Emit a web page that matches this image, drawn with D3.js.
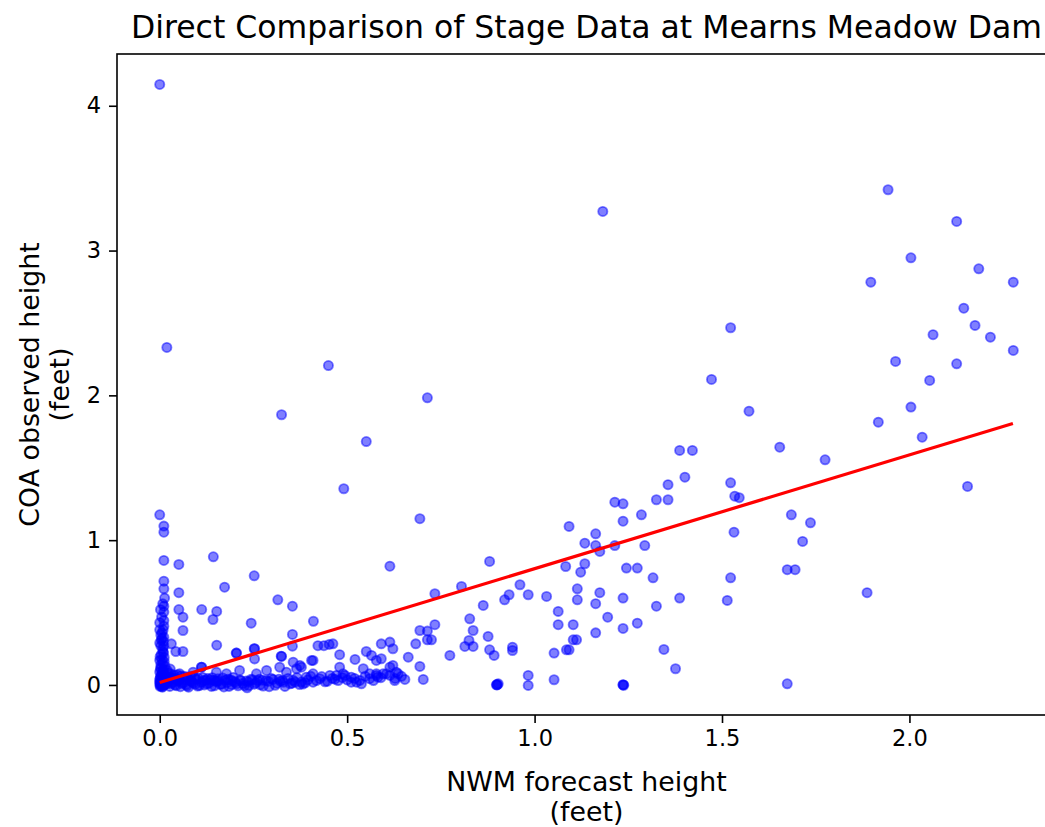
<!DOCTYPE html>
<html>
<head>
<meta charset="utf-8">
<script src="https://cdn.jsdelivr.net/npm/d3@7"></script>
<style>
  body { margin: 0; background: #fff; }
  text { font-family: "DejaVu Sans", sans-serif; fill: #000; }
</style>
</head>
<body>
<div id="chart"></div>
<script>
// NWM forecast height (feet) vs COA observed height (feet)
var nwm = [
  0, 1.182, 1.943, 2.126, 2.004, 2.185, 1.897, 2.277, 2.145, 2.175, 2.063, 2.216, 2.277, 1.963, 2.126, 2.054,
  2.004, 1.917, 2.034, 1.523, 1.472, 1.572, 1.387, 1.421, 1.654, 1.775, 1.401, 1.523, 1.534, 1.546, 2.155,
  1.685, 1.736, 1.532, 1.715, 1.674, 1.695, 1.523, 1.887, 1.387, 1.514, 1.376, 1.674,
  0.019, 0.45, 0.714, 0.325, 0.551, 0.491, 0.694,
  0, 0.011, 0.011, 0.011, 0.051, 0.143, 0.614, 0.252, 0.011, 0.011, 0.051, 0.173, 0.315, 0.354, 0.011, 0.011,
  0.051, 0.112, 0.152, 0.062, 0.142, 0, 0.011, 0, 0.011, 0.062, 0.244, 0.41, 0.354, 0.354, 0.011, 0.011,
  0.031, 0.043, 0.062, 0.152, 0.252, 0.204, 0.324, 0.409, 0.422, 0.438, 0.452, 0.462, 0.48, 0.521, 0.551,
  0.565, 0.578, 0.591, 0.591, 0.614, 0.622,
  0.88, 0.734, 0.805, 0.863, 0.694, 0.714, 0.734, 0.714, 0.725, 0.827, 0.836, 0.876, 0.825, 0.814, 0.836,
  0.88, 0.892, 0.683, 0.663, 0.694, 0.703, 0.774, 0.378, 0.48, 0.614, 0.631, 0.654, 0.391, 0.409, 0.427,
  0.454, 0.471, 0.494, 0.511, 0.525, 0.538, 0.56, 0.578, 0.596, 0.614, 0.9, 0.9, 0.903, 0.898,
  1.092, 1.214, 1.236, 1.236, 1.285, 1.325, 1.356, 1.356, 1.163, 1.134, 1.163, 1.174, 1.214, 1.294, 1.083,
  1.134, 1.123, 1.245, 1.274, 1.316, 0.961, 0.983, 0.932, 0.92, 1.032, 1.114, 1.114, 1.174, 1.163, 1.236,
  1.325, 0.941, 0.941, 1.063, 1.063, 1.103, 1.103, 1.112, 1.085, 1.092, 1.052, 1.195, 1.274, 1.163, 1.236,
  1.345, 0.983, 0.983, 1.052, 1.236, 1.236, 1.238,
  0.112, 0.213, 0.374, 0.409, 0.489, 0.543, 0.578, 0.622, 0.636, 0.285, 0.32, 0.338, 0.365, 0.258, 0.178,
  0.151, 0.089, 0.053, 0.111, 0.205, 0.253, 0.253, 0.325, 0.356, 0.405,
  0, 0.008, 0.004, 0.012, 0, 0.008, 0.014, 0.003, 0.01, 0, 0.006, 0.013, 0.002, 0.009, 0.015, 0, 0.005,
  0.011, 0.002, 0.007, 0.013, 0, 0.004, 0.009, 0.014, 0, 0.003, 0.01, 0.006, 0.004, 0.001, 0.007,
  0.022, 0.03, 0.038, 0.047, 0.056, 0.065, 0.074, 0.083, 0.093, 0.102, 0.115, 0.128, 0.14, 0.155, 0.025,
  0.035, 0.045, 0.02, 0.028, 0.168, 0.182, 0.196,
  0.02, 0.027, 0.034, 0.041, 0.049, 0.055, 0.063, 0.071, 0.077, 0.086, 0.095, 0.101, 0.112, 0.119, 0.131,
  0.138, 0.149, 0.162, 0.171, 0.179, 0.192, 0.201, 0.209, 0.222, 0.231, 0.238, 0.256, 0.268, 0.284, 0.292,
  0.313, 0.322, 0.334, 0.348, 0.361, 0.373, 0.388, 0.047, 0.082, 0.124, 0.157, 0.188, 0.216, 0.247, 0.274,
  0.302, 0.328, 0.356, 0.382, 0.266, 0.233, 0.143, 0.511, 0.534, 0.56, 0.582, 0.605, 0.627, 0.441, 0.467,
  0.003, 0.009, 0.001, 0.006, 0.012, 0.002, 0.008, 0.005, 0.011, 0.001, 0.007, 0.004, 0.012, 0.002, 0.008,
  0.015, 0.006, 0.01, 0.003, 0.009, 0.005, 0.002, 0.008, 0.013,
  0.018, 0.024, 0.031, 0.039, 0.044, 0.052, 0.059, 0.066, 0.073, 0.081, 0.09, 0.098, 0.106, 0.117, 0.126,
  0.135, 0.146, 0.153, 0.165, 0.175, 0.185, 0.194, 0.205, 0.214, 0.226, 0.236, 0.244, 0.252, 0.261, 0.276,
  0.29, 0.298, 0.308, 0.318, 0.33, 0.342, 0.353, 0.366, 0.378, 0.395, 0.403, 0.418, 0.432, 0.447, 0.46,
  0.476, 0.487, 0.5, 0.52, 0.548, 0.57, 0.59, 0.628, 0.645
];
var coa = [
  4.147, 3.27, 3.42, 3.201, 2.95, 2.874, 2.782, 2.782, 2.602, 2.483, 2.419, 2.402, 2.31, 2.234, 2.218, 2.103,
  1.919, 1.815, 1.711, 2.467, 2.11, 1.891, 1.62, 1.62, 1.642, 1.555, 1.435, 1.396, 1.304, 1.293, 1.371,
  1.175, 1.12, 1.055, 0.991, 0.796, 0.796, 0.74, 0.637, 0.6, 0.584, 0.112, 0.008,
  2.331, 2.206, 1.983, 1.866, 1.681, 1.355, 1.148,
  1.175, 1.097, 1.055, 0.86, 0.832, 0.885, 0.82, 0.754, 0.717, 0.664, 0.637, 0.675, 0.588, 0.544, 0.544, 0.503,
  0.521, 0.521, 0.508, 0.468, 0.452, 0.43, 0.445, 0.381, 0.406, 0.376, 0.427, 0.44, 0.349, 0.268, 0.33, 0.268,
  0.284, 0.231, 0.231, 0.275, 0.25, 0.22, 0.199, 0.169, 0.271, 0.271, 0.28, 0.284, 0.209, 0.176, 0.231,
  0.204, 0.169, 0.181, 0.284, 0.296, 0.25,
  0.853, 0.63, 0.68, 0.549, 0.376, 0.372, 0.416, 0.312, 0.312, 0.457, 0.376, 0.335, 0.307, 0.266, 0.266,
  0.243, 0.204, 0.284, 0.192, 0.128, 0.038, 0.204, 0.123, 0.123, 0.123, 0.088, 0.038, 0.054, 0.019, 0.043,
  0.066, 0.066, 0.066, 0.054, 0.019, 0.008, 0.043, 0.066, 0.077, 0.066, 0.003, 0, 0.008, 0.001,
  1.095, 1.262, 1.251, 1.131, 1.175, 1.279, 1.279, 1.383, 1.044, 0.979, 0.963, 0.922, 0.963, 0.963, 0.818,
  0.837, 0.779, 0.807, 0.807, 0.74, 0.692, 0.623, 0.623, 0.588, 0.611, 0.664, 0.588, 0.637, 0.561, 0.6,
  0.544, 0.261, 0.238, 0.508, 0.416, 0.416, 0.312, 0.312, 0.243, 0.243, 0.22, 0.468, 0.427, 0.36, 0.39,
  0.245, 0.066, -0.003, 0.036, 0, 0.002, -0.002,
  0.123, 0.1, 0.135, 0.077, 0.077, 0.112, 0.077, 0.135, 0.077, 0.1, 0.123, 0.088, 0.112, 0.077, 0.077,
  0.088, 0.088, 0.077, 0.123, 0.22, 0.25, 0.18, 0.197, 0.157, 0.169,
  0.29, 0.25, 0.21, 0.19, 0.17, 0.15, 0.13, 0.12, 0.105, 0.09, 0.08, 0.07, 0.06, 0.05, 0.045, 0.035, 0.03,
  0.025, 0.018, 0.012, 0.01, 0.005, 0, 0, 0.003, 0.02, 0.14, 0.22, 0.36, 0.31, -0.01, -0.015,
  0.085, 0.075, 0.068, 0.07, 0.062, 0.06, 0.055, 0.058, 0.05, 0.048, 0.052, 0.045, 0.05, 0.042, 0.055,
  0.045, 0.04, 0.1, 0.11, 0.048, 0.04, 0.052,
  0.01, -0.01, 0.02, 0, 0.025, -0.012, 0.015, 0.002, -0.015, 0.022, 0.005, -0.008, 0.018, 0, 0.012,
  -0.01, 0.024, 0.004, -0.014, 0.016, 0.002, 0.02, -0.006, 0.01, 0.028, -0.004, 0.014, 0.001, 0.03, -0.012,
  0.012, 0.026, -0.01, 0.008, 0.02, 0.003, 0.015, 0.035, 0.03, 0.033, 0.028, 0.036, 0.03, 0.034, 0.032,
  0.038, 0.03, 0.032, 0.006, 0.04, -0.02, 0.031, 0.019, 0.031, 0.077, 0.054, 0.077, 0.03, 0.022, 0.04,
  0.27, 0.23, 0.195, 0.175, 0.16, 0.11, 0.095, 0.065, 0.04, 0.045, 0.022, 0.008, 0.002, -0.005, -0.01,
  0.015, 0.32, 0.3, 0.345, 0.38, 0.47, 0.52, 0.56, 0.6,
  0.04, 0.03, 0.01, 0.045, -0.005, 0.035, 0.01, 0.04, -0.008, 0.03, 0.012, 0.038, -0.004, 0.03, 0.008,
  0.036, -0.006, 0.025, 0.006, 0.033, -0.01, 0.028, 0.008, 0.035, -0.005, 0.022, 0.04, 0.005, 0.03, -0.008,
  0.024, 0.045, -0.002, 0.04, 0.018, 0.045, 0.012, 0.05, 0.02, 0.035, 0.06, 0.03, 0.058, 0.025, 0.045,
  0.03, 0.05, 0.035, 0.045, 0.06, 0.03, 0.05, 0.045, 0.06
];

// fitted line endpoints (red)
var fitX = [0, 2.276];
var fitY = [0.017, 1.806];

var xTicks = [0, 0.5, 1.0, 1.5, 2.0];
var yTicks = [0, 1, 2, 3, 4];

var titleText = "Direct Comparison of Stage Data at Mearns Meadow Dam";
var xLabel = ["NWM forecast height", "(feet)"];
var yLabel = ["COA observed height", "(feet)"];

var width = 1045, height = 827;
var plot = {left: 117, right: 1056, top: 54, bottom: 715};

var svg = d3.select("#chart")
  .append("svg")
    .attr("width", width)
    .attr("height", height)
    .style("display", "block");

svg.append("rect")
  .attr("width", width)
  .attr("height", height)
  .attr("fill", "#fff");

var x = d3.scaleLinear()
  .domain([-0.114, 2.391])
  .range([plot.left, plot.right]);

var y = d3.scaleLinear()
  .domain([-0.2075, 4.3575])
  .range([plot.bottom, plot.top]);

// points
var points = nwm.map(function(d, i) { return {x: d, y: coa[i]}; });

svg.append("g")
  .selectAll("circle")
  .data(points)
  .enter()
  .append("circle")
    .attr("cx", function(d) { return x(d.x); })
    .attr("cy", function(d) { return y(d.y); })
    .attr("r", 4.6)
    .attr("fill", "blue")
    .attr("fill-opacity", 0.5)
    .attr("stroke", "blue")
    .attr("stroke-opacity", 0.5)
    .attr("stroke-width", 1.8);

// fit line
var line = d3.line()
  .x(function(d) { return x(d[0]); })
  .y(function(d) { return y(d[1]); });

svg.append("path")
  .datum(fitX.map(function(d, i) { return [d, fitY[i]]; }))
  .attr("d", line)
  .attr("fill", "none")
  .attr("stroke", "red")
  .attr("stroke-width", 3.2);

// axes
var xAxis = svg.append("g")
  .attr("transform", "translate(0," + plot.bottom + ")")
  .call(d3.axisBottom(x).tickValues(xTicks).tickFormat(d3.format(".1f")).tickSize(8).tickPadding(7));

var yAxis = svg.append("g")
  .attr("transform", "translate(" + plot.left + ",0)")
  .call(d3.axisLeft(y).tickValues(yTicks).tickFormat(d3.format("d")).tickSize(8).tickPadding(8));

[xAxis, yAxis].forEach(function(g) {
  g.select(".domain").remove();
  g.selectAll(".tick line").attr("stroke", "#000").attr("stroke-width", 1.6);
  g.selectAll(".tick text")
    .style("font-family", "DejaVu Sans, sans-serif")
    .style("font-size", "22.5px")
    .attr("fill", "#000");
});

// frame
svg.append("rect")
  .attr("x", plot.left)
  .attr("y", plot.top)
  .attr("width", plot.right - plot.left)
  .attr("height", plot.bottom - plot.top)
  .attr("fill", "none")
  .attr("stroke", "#000")
  .attr("stroke-width", 1.6);

// title
svg.append("text")
  .attr("x", (plot.left + plot.right) / 2)
  .attr("y", 38)
  .attr("text-anchor", "middle")
  .style("font-size", "31.5px")
  .text(titleText);

// x label
svg.append("text")
  .attr("text-anchor", "middle")
  .style("font-size", "26.8px")
  .selectAll("tspan")
  .data(xLabel)
  .enter()
  .append("tspan")
    .attr("x", (plot.left + plot.right) / 2)
    .attr("y", function(d, i) { return 791 + i * 30; })
    .text(function(d) { return d; });

// y label
svg.append("text")
  .attr("text-anchor", "middle")
  .attr("transform", "translate(0," + ((plot.top + plot.bottom) / 2) + ") rotate(-90)")
  .style("font-size", "26.8px")
  .selectAll("tspan")
  .data(yLabel)
  .enter()
  .append("tspan")
    .attr("x", 0)
    .attr("y", function(d, i) { return 39 + i * 30; })
    .text(function(d) { return d; });
</script>
</body>
</html>
